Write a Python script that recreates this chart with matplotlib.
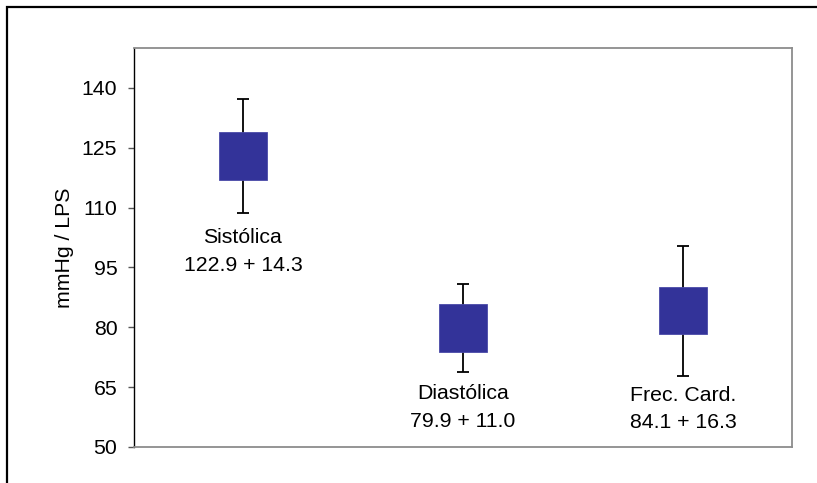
import matplotlib
matplotlib.use("Agg")
import matplotlib.pyplot as plt
from matplotlib.patches import Rectangle

plt.rcParams['font.family'] = ['Liberation Sans', 'DejaVu Sans']

# Data
categories = ["Sistólica", "Diastólica", "Frec. Card."]
means = [122.9, 79.9, 84.1]
sds = [14.3, 11.0, 16.3]
box_low = [116.9, 73.9, 78.2]
box_high = [128.9, 85.8, 90.2]
label_texts = ["Sistólica\n122.9 + 14.3", "Diastólica\n79.9 + 11.0", "Frec. Card.\n84.1 + 16.3"]
label_y = [99.0, 59.9, 59.5]
yticks = [50, 65, 80, 95, 110, 125, 140]

FS = 15.3

fig = plt.figure(figsize=(8.17, 4.83), dpi=100)
ax = fig.add_axes([134/817, 1-447/483, (792-134)/817, (447-48)/483])

x = list(range(len(categories)))
ax.errorbar(x, means, yerr=sds, fmt='none', ecolor='black', elinewidth=1.3,
            capsize=4.5, capthick=1.3, zorder=2)
heights = [h - l for h, l in zip(box_high, box_low)]
ax.bar(x, heights, bottom=box_low, width=0.218, color='#333399',
       edgecolor='#4a4aa8', linewidth=0.6, zorder=3)

for xi, t, yv in zip(x, label_texts, label_y):
    ax.text(xi, yv, t, ha='center', va='center', fontsize=FS, color='black',
            linespacing=1.55)

ax.set_xlim(-0.495, 2.495)
ax.set_ylim(50, 150)
ax.set_yticks(yticks)
ax.set_yticklabels([str(v) for v in yticks], fontsize=FS)
ax.set_xticks([])
ax.tick_params(axis='y', direction='out', length=4.5, width=1, color='#555555', pad=7.5)
ax.set_ylabel("mmHg / LPS", fontsize=FS, labelpad=6)

for side in ['top', 'right', 'bottom']:
    ax.spines[side].set_color('#8c8c8c')
    ax.spines[side].set_linewidth(1.3)
ax.spines['left'].set_color('black')
ax.spines['left'].set_linewidth(1.0)

frame = Rectangle((7/817, -0.2), 1.3, 1.2 - 7/483, transform=fig.transFigure,
                  fill=False, edgecolor='black', linewidth=1.6, clip_on=False)
fig.add_artist(frame)

fig.savefig("out.png", dpi=100)
